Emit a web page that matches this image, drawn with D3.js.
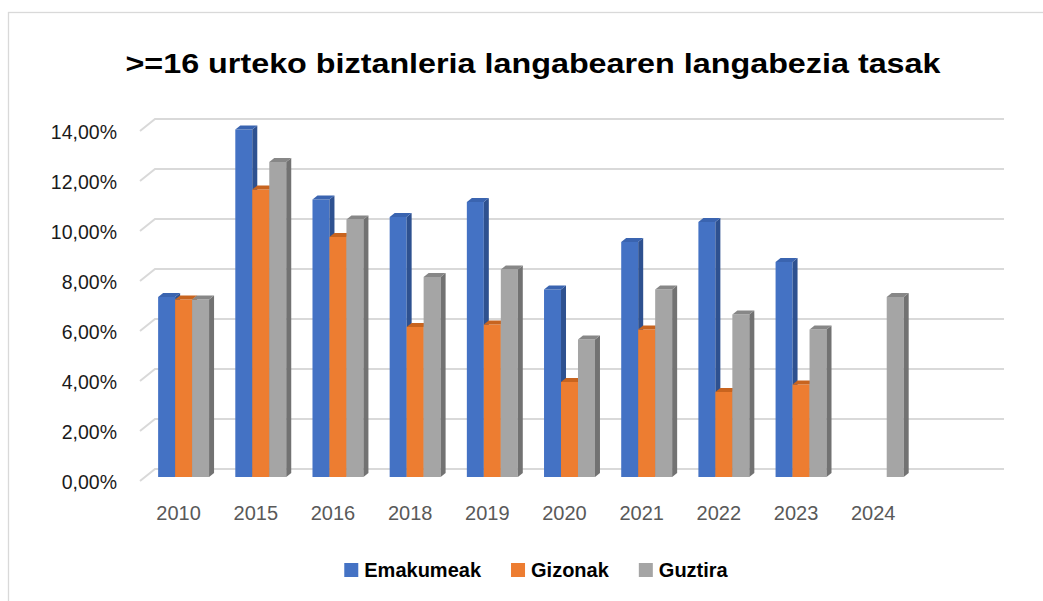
<!DOCTYPE html>
<html lang="eu">
  <head>
    <meta charset="UTF-8" />
    <title>Langabezia tasak</title>
    <script src="https://d3js.org/d3.v7.min.js"></script>
    <style>
      body { margin: 0; background: #fff; }
      text { font-family: 'Liberation Sans', Arial, sans-serif; }
    </style>
  </head>
  <body>
    <svg id="chart"></svg>
    <script>
      const width = 1043
      const height = 601

      // data (percent)
      const years = ['2010', '2015', '2016', '2018', '2019', '2020', '2021', '2022', '2023', '2024', '']
      const series = ['Emakumeak', 'Gizonak', 'Guztira']
      const emakumeak = [7.2, 13.9, 11.1, 10.4, 11.0, 7.5, 9.4, 10.2, 8.6, null, null]
      const gizonak = [7.1, 11.5, 9.6, 6.0, 6.1, 3.8, 5.9, 3.4, 3.7, null, null]
      const guztira = [7.1, 12.6, 10.3, 8.0, 8.3, 5.5, 7.5, 6.5, 5.9, 7.2, null]
      const yTicks = [0, 2, 4, 6, 8, 10, 12, 14]

      const values = [emakumeak, gizonak, guztira]
      const colors = {
        Emakumeak: { front: '#4472C4', top: '#3A64B0', side: '#2E5190' },
        Gizonak: { front: '#ED7D31', top: '#C8641F', side: '#B15A1E' },
        Guztira: { front: '#A5A5A5', top: '#878787', side: '#727272' },
      }

      // depth offset of the 3d box: back wall -> front edge
      const depthX = -15
      const depthY = 12

      const svg = d3.select('#chart').attr('width', width).attr('height', height)

      // chart area border
      svg.append('rect')
        .attr('x', 8.5).attr('y', 12.5)
        .attr('width', 1200).attr('height', 800)
        .attr('fill', 'none')
        .attr('stroke', '#d9d9d9')
        .attr('stroke-width', 1.3)

      svg.append('text')
        .attr('x', 533).attr('y', 73)
        .attr('text-anchor', 'middle')
        .attr('font-size', 28)
        .attr('font-weight', 'bold')
        .attr('textLength', 815)
        .attr('lengthAdjust', 'spacingAndGlyphs')
        .attr('fill', '#000')
        .text('>=16 urteko biztanleria langabearen langabezia tasak')

      // scales on the back wall
      const x = d3.scaleBand().domain(years).range([155, 1004])
      const y = d3.scaleLinear().domain([0, 14]).range([469, 119])
      const groupW = x.bandwidth() * 0.66
      const xs = d3.scaleBand().domain(series)
        .range([(x.bandwidth() - groupW) / 2, (x.bandwidth() + groupW) / 2])

      const proj = (px, py, d) => [px + depthX * d, py + depthY * d]

      // gridlines: diagonal on the side wall + line on back wall
      const grid = svg.append('g')
      yTicks.forEach(t => {
        const [fx, fy] = proj(x.range()[0], y(t), 1)
        grid.append('polyline')
          .attr('points', `${fx},${fy} ${x.range()[0]},${y(t)} ${x.range()[1]},${y(t)}`)
          .attr('fill', 'none')
          .attr('stroke', '#d9d9d9')
          .attr('stroke-width', 2)
      })

      // y axis (front edge)
      const loc = d3.formatLocale({ decimal: ',', thousands: '.', grouping: [3], currency: ['', '€'] })
      const fmt = loc.format('.2f')
      const yAxis = svg.append('g')
        .attr('transform', `translate(${x.range()[0] + depthX - 17},${depthY + 1})`)
        .call(d3.axisLeft(y).tickValues(yTicks).tickSize(0).tickPadding(6).tickFormat(d => fmt(d) + '%'))
      yAxis.select('.domain').remove()
      yAxis.selectAll('text').attr('font-size', 19.5).attr('fill', '#1a1a1a').attr('font-family', 'Liberation Sans, Arial, sans-serif')

      // x axis (front edge)
      const xAxis = svg.append('g')
        .attr('transform', `translate(${depthX},${y(0) + depthY})`)
        .call(d3.axisBottom(x).tickSize(0).tickPadding(25))
      xAxis.select('.domain').remove()
      xAxis.selectAll('text').attr('font-size', 20).attr('fill', '#595959').attr('font-family', 'Liberation Sans, Arial, sans-serif')

      // 3d bars: front face at depth 2/3, back at 1/3
      const dF = 2 / 3
      const dB = 1 / 3
      const bars = svg.append('g')
      const pts = arr => arr.map(p => p.join(',')).join(' ')
      years.forEach((yr, i) => {
        series.forEach((s, j) => {
          const v = values[j][i]
          if (v == null) return
          const x0 = x(yr) + xs(s)
          const x1 = x0 + xs.bandwidth()
          const yT = y(v)
          const yB = y(0)
          const c = colors[s]
          const g = bars.append('g')
          g.append('polygon').attr('fill', c.front)
            .attr('points', pts([proj(x0, yT, dF), proj(x1, yT, dF), proj(x1, yB, dF), proj(x0, yB, dF)]))
          g.append('polygon').attr('fill', c.side)
            .attr('points', pts([proj(x1, yT, dF), proj(x1, yT, dB), proj(x1, yB, dB), proj(x1, yB, dF)]))
          g.append('polygon').attr('fill', c.top)
            .attr('points', pts([proj(x0, yT, dF), proj(x1, yT, dF), proj(x1, yT, dB), proj(x0, yT, dB)]))
        })
      })

      // legend
      const legend = svg.append('g')
      let lx = 0
      series.forEach(s => {
        const item = legend.append('g').attr('transform', `translate(${lx},0)`)
        item.append('rect').attr('x', 0).attr('y', -7).attr('width', 14).attr('height', 14)
          .attr('fill', colors[s].front)
        const t = item.append('text').attr('x', 20).attr('y', 7)
          .attr('font-size', 20).attr('font-weight', 'bold').attr('fill', '#000')
          .text(s)
        lx += 20 + t.node().getComputedTextLength() + 30
      })
      const lw = lx - 30
      legend.attr('transform', `translate(${536 - lw / 2},570)`)
    </script>
  </body>
</html>
